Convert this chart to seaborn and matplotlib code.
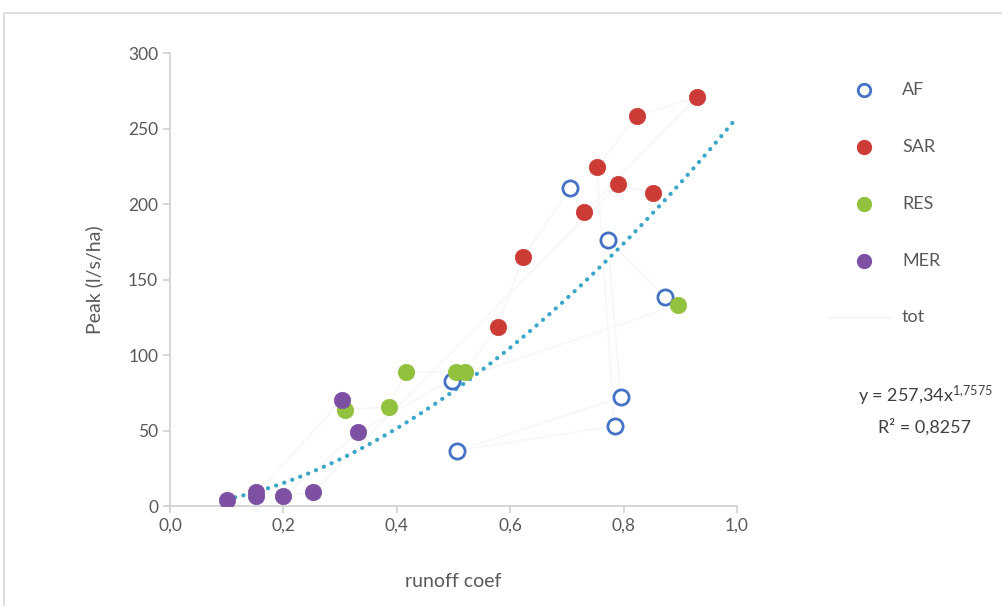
import numpy as np
import pandas as pd
import matplotlib.pyplot as plt
import seaborn as sns
from matplotlib.patches import Rectangle

# data
af_x = [0.706, 0.772, 0.873, 0.498, 0.795, 0.784, 0.507]
af_y = [210.4, 176.5, 138.3, 82.7, 71.9, 53.1, 36.7]
sar_x = [0.930, 0.824, 0.753, 0.790, 0.852, 0.731, 0.622, 0.578]
sar_y = [271.2, 258.4, 224.6, 213.0, 207.0, 194.5, 164.6, 118.8]
res_x = [0.896, 0.416, 0.505, 0.520, 0.386, 0.309]
res_y = [133.2, 88.7, 88.7, 88.7, 65.7, 63.9]
mer_x = [0.303, 0.332, 0.101, 0.152, 0.152, 0.200, 0.252]
mer_y = [70.1, 48.7, 4.0, 9.5, 6.9, 6.6, 9.1]

# order of the faint "tot" line (series, index)
tot_order = [("MER", 2), ("MER", 3), ("MER", 0), ("RES", 5), ("RES", 4), ("RES", 1),
             ("RES", 2), ("AF", 3), ("RES", 0), ("AF", 2), ("AF", 1), ("AF", 4),
             ("AF", 6), ("AF", 5), ("AF", 1), ("SAR", 2), ("SAR", 1), ("SAR", 0),
             ("SAR", 5), ("AF", 0), ("SAR", 6), ("SAR", 7), ("RES", 3), ("MER", 1),
             ("MER", 4), ("MER", 5), ("MER", 6), ("SAR", 3), ("SAR", 4), ("AF", 2)]

trend_a = 257.34
trend_b = 1.7575
trend_r2 = 0.8257

series = {"AF": (af_x, af_y), "SAR": (sar_x, sar_y), "RES": (res_x, res_y), "MER": (mer_x, mer_y)}
colors = {"AF": "#4472C4", "SAR": "#CC3B36", "RES": "#92C13E", "MER": "#7D50A3"}

sns.set_style("white")
plt.rcParams['font.family'] = ['Lato', 'DejaVu Sans']
plt.rcParams['mathtext.fontset'] = 'custom'
plt.rcParams['mathtext.rm'] = 'Lato'
plt.rcParams['mathtext.it'] = 'Lato'

fig = plt.figure(figsize=(10.03, 6.06), dpi=100)
ax = fig.add_axes([0.1695, 0.165, 0.5653, 0.7475])

# chart area border
fig.patches.append(Rectangle((4 / 1003, -0.1), 1.2, 1.1 - 13 / 606, transform=fig.transFigure,
                             fill=False, edgecolor="#D9D9D9", linewidth=1.2))

tot = pd.DataFrame({"x": [series[s][0][i] for s, i in tot_order],
                    "y": [series[s][1][i] for s, i in tot_order]})
sns.lineplot(data=tot, x="x", y="y", sort=False, ax=ax, color="#F6F6F6", linewidth=1, zorder=1)

# power trendline
tx = np.linspace(0.1, 1.0, 200)
ax.plot(tx, trend_a * tx ** trend_b, linestyle=(0, (0.05, 2.0)), color="#3AA6C9",
        linewidth=3, dash_capstyle="round", zorder=2)

for name, (xs, ys) in series.items():
    df = pd.DataFrame({"x": xs, "y": ys})
    if name == "AF":
        sns.scatterplot(data=df, x="x", y="y", ax=ax, s=120, facecolor="white",
                        edgecolor=colors[name], linewidth=2, zorder=3)
    else:
        sns.scatterplot(data=df, x="x", y="y", ax=ax, s=140, color=colors[name],
                        edgecolor=colors[name], linewidth=0.5, zorder=3)

ax.set_xlim(0, 1.0)
ax.set_ylim(0, 300)
ax.set_xticks(np.arange(0, 1.01, 0.2))
ax.set_xticklabels([f"{v:.1f}".replace(".", ",") for v in np.arange(0, 1.01, 0.2)])
ax.set_yticks(range(0, 301, 50))
for s in ["top", "right"]:
    ax.spines[s].set_visible(False)
for s in ["left", "bottom"]:
    ax.spines[s].set_color("#D0D0D0")
    ax.spines[s].set_linewidth(1.2)
ax.tick_params(axis="both", colors="#D0D0D0", labelcolor="#595959", labelsize=12.5,
               length=5, width=1.2, direction="out", bottom=True, left=True)
ax.set_xlabel("runoff coef", fontsize=14, color="#595959", labelpad=28)
ax.set_ylabel("Peak (l/s/ha)", fontsize=14, color="#595959", labelpad=18)

# legend drawn by hand on the right
leg_y = [90, 147, 204, 261]
for (name, _), yy in zip(series.items(), leg_y):
    yf = 1 - yy / 606
    if name == "AF":
        fig.lines.append(plt.Line2D([864 / 1003], [yf], marker="o", markersize=9, markerfacecolor="white",
                                    markeredgecolor=colors[name], markeredgewidth=2, transform=fig.transFigure))
    else:
        fig.lines.append(plt.Line2D([864 / 1003], [yf], marker="o", markersize=10, markerfacecolor=colors[name],
                                    markeredgecolor=colors[name], transform=fig.transFigure))
    fig.text(902 / 1003, yf, name, fontsize=13, color="#595959", va="center", ha="left")
fig.lines.append(plt.Line2D([828 / 1003, 890 / 1003], [1 - 317 / 606] * 2, color="#F2F2F2",
                            linewidth=1, transform=fig.transFigure))
fig.text(902 / 1003, 1 - 317 / 606, "tot", fontsize=13, color="#595959", va="center", ha="left")

eq = f"y = {trend_a:.2f}".replace(".", ",") + "x$^{" + f"{trend_b:.4f}".replace(".", "{,}") + "}$"
fig.text(925 / 1003, 1 - 396 / 606, eq, fontsize=13, color="#404040", va="center", ha="center")
fig.text(925 / 1003, 1 - 427 / 606, "R² = " + f"{trend_r2:.4f}".replace(".", ","), fontsize=13,
         color="#404040", va="center", ha="center")

fig.savefig("out.png", dpi=100)
